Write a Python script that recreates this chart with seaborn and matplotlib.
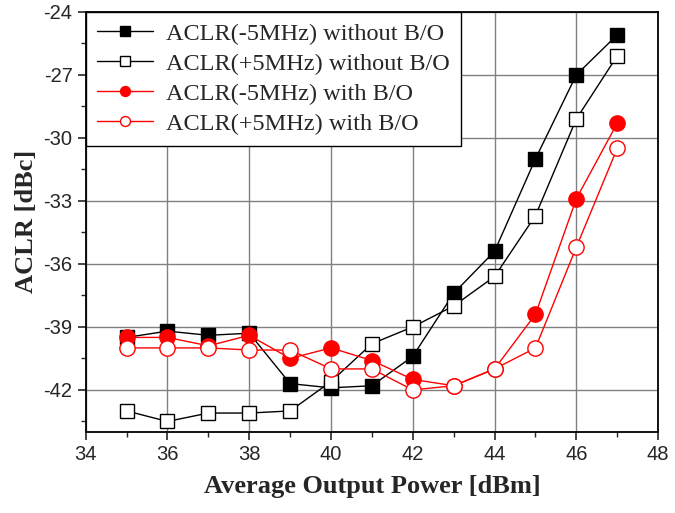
import matplotlib
matplotlib.use("Agg")
import matplotlib.pyplot as plt
import seaborn as sns
import pandas as pd
from matplotlib.ticker import MultipleLocator

power = [35, 36, 37, 38, 39, 40, 41, 42, 43, 44, 45, 46, 47]
aclr_m5_without = [-39.5, -39.2, -39.4, -39.3, -41.7, -41.9, -41.8, -40.4, -37.4, -35.4, -31.0, -27.0, -25.1]
aclr_p5_without = [-43.0, -43.5, -43.1, -43.1, -43.0, -41.6, -39.8, -39.0, -38.0, -36.6, -33.7, -29.1, -26.1]
aclr_m5_with = [-39.5, -39.5, -39.9, -39.4, -40.5, -40.0, -40.6, -41.5, -41.8, -41.0, -38.4, -32.9, -29.3]
aclr_p5_with = [-40.0, -40.0, -40.0, -40.1, -40.1, -41.0, -41.0, -42.0, -41.8, -41.0, -40.0, -35.2, -30.5]
labels = ["ACLR(-5MHz) without B/O", "ACLR(+5MHz) without B/O",
          "ACLR(-5MHz) with B/O", "ACLR(+5MHz) with B/O"]

sns.set_style("ticks")
plt.rcParams["axes.unicode_minus"] = False
fig = plt.figure(figsize=(6.75, 5.13), dpi=100)
ax = fig.add_axes([0.127, 0.158, 0.848, 0.819])

series = [aclr_m5_without, aclr_p5_without, aclr_m5_with, aclr_p5_with]
styles = [
    dict(color="black", marker="s", mfc="black", mec="black", ms=10),
    dict(color="black", marker="s", mfc="white", mec="black", ms=10),
    dict(color="red", marker="o", mfc="red", mec="red", ms=11),
    dict(color="red", marker="o", mfc="white", mec="red", ms=11),
]
for vals, lab, st in zip(series, labels, styles):
    df = pd.DataFrame({"x": power, "y": vals})
    sns.lineplot(data=df, x="x", y="y", ax=ax, label=lab, color=st["color"],
                 marker=st["marker"], markerfacecolor=st["mfc"],
                 markeredgecolor=st["mec"], markersize=st["ms"],
                 markeredgewidth=1.0, linewidth=1.0, zorder=3)

ax.set_xlim(34, 48)
ax.set_ylim(-44, -24)
ax.xaxis.set_major_locator(MultipleLocator(2))
ax.xaxis.set_minor_locator(MultipleLocator(1))
ax.yaxis.set_minor_locator(MultipleLocator(1.5))
ax.set_yticks([-24, -27, -30, -33, -36, -39, -42])
ax.grid(True, which="major", color="#808080", linewidth=1.0)
ax.tick_params(axis="both", which="major", direction="out", length=6, width=1.2,
               labelsize=14.5, top=False, right=False)
ax.tick_params(axis="both", which="minor", direction="out", length=3.5, width=1.0,
               top=False, right=False)
for lab in ax.get_xticklabels() + ax.get_yticklabels():
    lab.set_family("Liberation Sans")
for sp in ax.spines.values():
    sp.set_linewidth(1.3)
    sp.set_color("black")

ax.set_xlabel("Average Output Power [dBm]", family="Liberation Serif",
              fontweight="bold", fontsize=19, labelpad=8)
ax.set_ylabel("ACLR [dBc]", family="Liberation Serif",
              fontweight="bold", fontsize=19, labelpad=4)

leg = ax.legend(loc="upper left", prop={"family": "Liberation Serif", "size": 17.5},
                frameon=True, fancybox=False, framealpha=1, edgecolor="black",
                borderaxespad=0.0, handlelength=2.3, handletextpad=0.55,
                labelspacing=0.33, borderpad=0.45, markerscale=0.65)
leg.get_frame().set_linewidth(1.0)
leg.set_zorder(5)

fig.savefig("out.png", dpi=100)
